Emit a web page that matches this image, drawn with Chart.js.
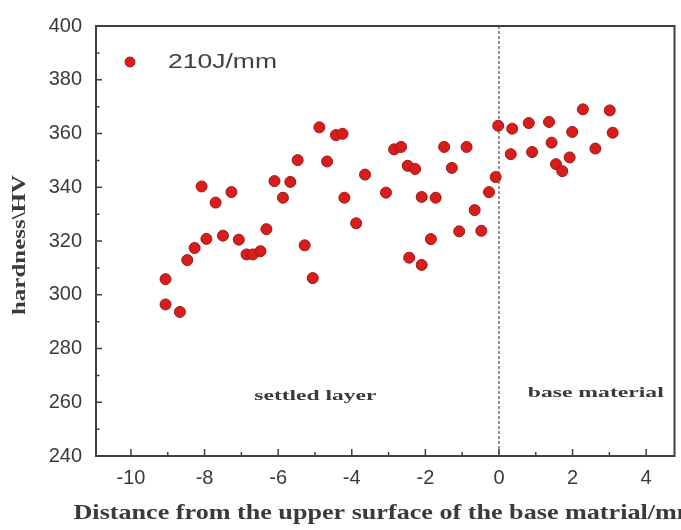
<!DOCTYPE html>
<html>
<head>
<meta charset="utf-8">
<script src="https://cdn.jsdelivr.net/npm/chart.js@4.4.1/dist/chart.umd.min.js"></script>
<style>
html, body { margin: 0; padding: 0; background: #fff; overflow: hidden; }
#wrap { width: 681px; height: 530px; }
</style>
</head>
<body>
<div id="wrap"><canvas id="grafico" width="681" height="530"></canvas></div>
<script>
// values
var distancia = [-9.06, -9.06, -8.67, -8.47, -8.27, -8.08, -7.95, -7.70, -7.50, -7.27,
                 -7.07, -6.86, -6.69, -6.48, -6.32, -6.10, -5.87, -5.67, -5.47, -5.28,
                 -5.06, -4.88, -4.67, -4.43, -4.25, -4.20, -3.88, -3.64, -3.07, -2.85,
                 -2.66, -2.48, -2.28, -2.44, -2.10, -2.10, -1.85, -1.72, -1.49, -1.28,
                 -1.08, -0.88, -0.66, -0.48, -0.27, -0.09, -0.02, 0.36, 0.32, 0.81,
                 0.90, 1.36, 1.43, 1.55, 1.72, 1.92, 1.99, 2.28, 2.62, 3.01, 3.09]
var dureza = [305.8, 296.4, 293.6, 312.9, 317.4, 340.3, 320.8, 334.3, 322.0, 338.2,
              320.5, 315.0, 315.0, 316.2, 324.4, 342.3, 336.1, 342.0, 350.1, 318.4,
              306.2, 362.3, 349.6, 359.4, 359.9, 336.1, 326.6, 344.7, 338.0, 354.1,
              355.0, 348.0, 346.8, 313.8, 311.1, 336.4, 320.7, 336.1, 355.0, 347.2,
              323.6, 355.0, 331.5, 323.8, 338.2, 343.8, 362.9, 361.8, 352.3, 363.9,
              353.1, 364.3, 356.6, 348.6, 346.0, 351.1, 360.6, 369.0, 354.4, 368.6, 360.3]
var xTicks = [-10, -8, -6, -4, -2, 0, 2, 4]
var yTicks = [240, 260, 280, 300, 320, 340, 360, 380, 400]
var serieNome = '210J/mm'
var regioes = ['settled layer', 'base material']
var tituloX = 'Distance from the upper surface of the base matrial/mm'
var tituloY = 'hardness\\HV'

var vermelho = '#d81d1d'
var cinza = '#3a3a3a'

var pontos = []
for (i = 0; i < distancia.length; i++) {
    pontos.push({ x: distancia[i], y: dureza[i] })
}

// text stretched to a given width
function texto(c, txt, x, y, largura, fonte, girar) {
    c.save()
    c.font = fonte
    var w = c.measureText(txt).width
    c.translate(x, y)
    if (girar) c.rotate(-Math.PI / 2)
    c.scale(largura / w, 1)
    c.textAlign = 'center'
    c.textBaseline = 'middle'
    c.fillStyle = cinza
    c.fillText(txt, 0, 0)
    c.restore()
}

var tracejado = {
    id: 'tracejado',
    beforeDatasetsDraw: function (chart) {
        var c = chart.ctx
        var a = chart.chartArea
        var px = chart.scales.x.getPixelForValue(0)
        c.save()
        c.strokeStyle = '#6e6e6e'
        c.lineWidth = 1.5
        c.setLineDash([3, 2])
        c.beginPath()
        c.moveTo(px, a.top)
        c.lineTo(px, a.bottom)
        c.stroke()
        c.restore()
    }
}

var moldura = {
    id: 'moldura',
    afterDraw: function (chart) {
        var c = chart.ctx
        var a = chart.chartArea
        var sx = chart.scales.x
        var sy = chart.scales.y
        c.save()
        c.strokeStyle = '#404040'
        c.lineWidth = 2
        c.strokeRect(a.left, a.top, a.right - a.left, a.bottom - a.top)

        // inward ticks
        c.lineWidth = 1.5
        c.beginPath()
        for (v = 240; v <= 400; v += 10) {
            var py = sy.getPixelForValue(v)
            var len = (v % 20 == 0) ? 6 : 3.5
            c.moveTo(a.left, py)
            c.lineTo(a.left + len, py)
        }
        for (v = Math.ceil(sx.min); v <= sx.max; v++) {
            var px = sx.getPixelForValue(v)
            var len2 = (v % 2 == 0) ? 7 : 4
            c.moveTo(px, a.bottom)
            c.lineTo(px, a.bottom - len2)
        }
        c.stroke()
        c.restore()

        // region labels
        texto(c, regioes[0], sx.getPixelForValue(-4.99), sy.getPixelForValue(262.4), 122, 'bold 15px "Liberation Serif"')
        texto(c, regioes[1], sx.getPixelForValue(2.63), sy.getPixelForValue(263.5), 136, 'bold 15px "Liberation Serif"')

        // axis titles
        texto(c, tituloX, 386, 513, 625, 'bold 22px "Liberation Serif"')
        texto(c, tituloY, 20, 245, 140, 'bold 19px "Liberation Serif"', true)

        // legend
        c.save()
        c.fillStyle = vermelho
        c.strokeStyle = '#a51313'
        c.lineWidth = 1
        c.beginPath()
        c.arc(130, 62, 5, 0, Math.PI * 2)
        c.fill()
        c.stroke()
        c.restore()
        c.save()
        c.font = '20px "Liberation Sans"'
        var w = c.measureText(serieNome).width
        c.translate(168, 62)
        c.scale(109 / w, 1)
        c.textBaseline = 'middle'
        c.fillStyle = '#404040'
        c.fillText(serieNome, 0, 0)
        c.restore()
    }
}

var myChart = new Chart(document.getElementById('grafico'), {
    type: 'scatter',
    data: {
        datasets: [{
            label: serieNome,
            data: pontos,
            backgroundColor: vermelho,
            borderColor: '#a51313',
            borderWidth: 1,
            pointRadius: 5.5
        }]
    },
    options: {
        responsive: false,
        animation: false,
        layout: { padding: { top: 20, right: 5, left: 0, bottom: 0 } },
        plugins: {
            legend: { display: false },
            tooltip: { enabled: false }
        },
        scales: {
            x: {
                type: 'linear',
                min: -10.95,
                max: 4.77,
                afterBuildTicks: function (s) { s.ticks = xTicks.map(function (v) { return { value: v } }) },
                afterFit: function (s) { s.height = 74 },
                grid: { display: false, drawTicks: false },
                border: { display: false },
                ticks: { padding: 10, color: cinza, font: { family: 'Liberation Sans', size: 20 } }
            },
            y: {
                min: 240,
                max: 400,
                afterBuildTicks: function (s) { s.ticks = yTicks.map(function (v) { return { value: v } }) },
                afterFit: function (s) { s.width = 96 },
                grid: { display: false, drawTicks: false },
                border: { display: false },
                ticks: { padding: 14, color: cinza, font: { family: 'Liberation Sans', size: 20 } }
            }
        }
    },
    plugins: [tracejado, moldura]
})
</script>
</body>
</html>
